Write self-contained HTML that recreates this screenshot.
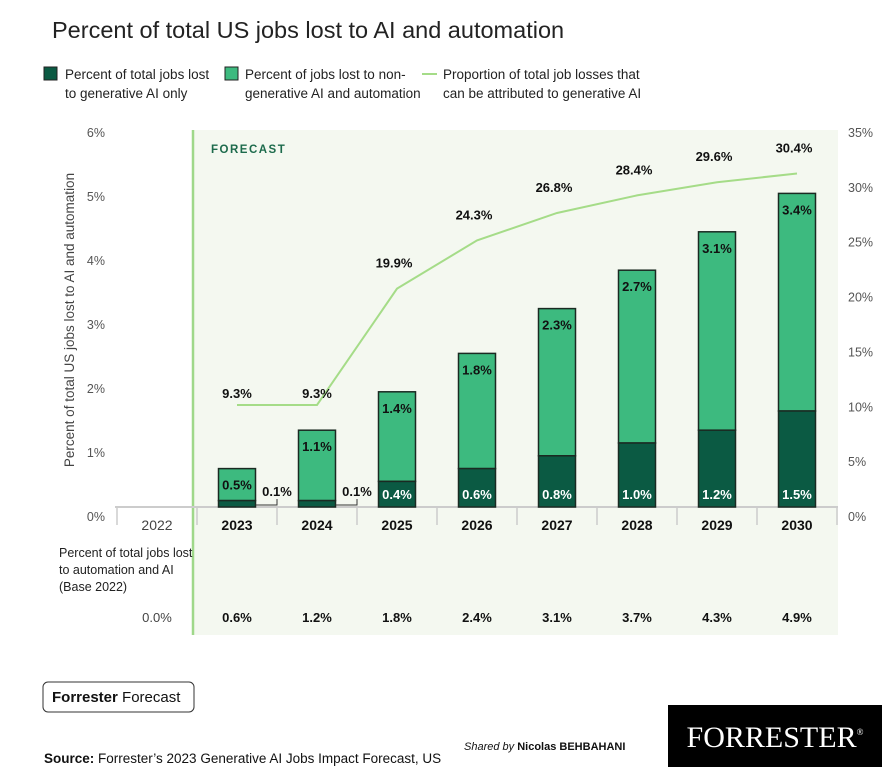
<!DOCTYPE html>
<html><head><meta charset="utf-8"><style>
body{margin:0;background:#fff;width:892px;height:772px;overflow:hidden;font-family:"Liberation Sans",sans-serif;}
svg text{font-family:"Liberation Sans",sans-serif;}
</style></head><body>
<svg width="892" height="772" viewBox="0 0 892 772">
<text x="52" y="38" font-size="23.5" fill="#222">Percent of total US jobs lost to AI and automation</text>
<g>
 <rect x="44" y="67" width="13" height="13" fill="#0b5a43" stroke="#222"/>
 <text x="65" y="79" font-size="13.5" fill="#222"><tspan x="65">Percent of total jobs lost</tspan><tspan x="65" dy="19">to generative AI only</tspan></text>
 <rect x="225" y="67" width="13" height="13" fill="#3dba7f" stroke="#222"/>
 <text x="245" y="79" font-size="13.5" fill="#222"><tspan x="245">Percent of jobs lost to non-</tspan><tspan x="245" dy="19">generative AI and automation</tspan></text>
 <line x1="422" y1="74" x2="437" y2="74" stroke="#a5dc88" stroke-width="2"/>
 <text x="443" y="79" font-size="13.5" fill="#222"><tspan x="443">Proportion of total job losses that</tspan><tspan x="443" dy="19">can be attributed to generative AI</tspan></text>
</g>
<rect x="193" y="130" width="645" height="505" fill="#f4f8f0"/>
<line x1="193" y1="130" x2="193" y2="635" stroke="#9fd88a" stroke-width="2.5"/>
<text x="211" y="153" font-size="11.5" font-weight="bold" letter-spacing="1.5" fill="#1d6b4c">FORECAST</text>
<text transform="translate(74,320) rotate(-90)" text-anchor="middle" font-size="13.5" fill="#444">Percent of total US jobs lost to AI and automation</text>
<g id="g"></g>
<text x="59" y="557" font-size="12.5" fill="#222"><tspan x="59">Percent of total jobs lost</tspan><tspan x="59" dy="17">to automation and AI</tspan><tspan x="59" dy="17">(Base 2022)</tspan></text>
<rect x="43" y="682" width="151" height="30" rx="5" fill="#fff" stroke="#333"/>
<text x="52" y="702" font-size="15" fill="#111"><tspan font-weight="bold">Forrester</tspan> Forecast</text>
<text x="44" y="763" font-size="13.5" fill="#111"><tspan font-weight="bold">Source:</tspan> Forrester’s 2023 Generative AI Jobs Impact Forecast, US</text>
<text x="464" y="750" font-size="11" fill="#111"><tspan font-style="italic">Shared by</tspan> <tspan font-weight="bold">Nicolas BEHBAHANI</tspan></text>
<rect x="668" y="705" width="214" height="62" fill="#000"/>
<text x="775" y="747" text-anchor="middle" font-family="Liberation Serif" font-size="30" fill="#fff" style="font-family:'Liberation Serif',serif">FORRESTER<tspan font-size="9" dy="-12">®</tspan></text>
</svg>
<script>
const years=["2022","2023","2024","2025","2026","2027","2028","2029","2030"];
const genAI=[0,0.1,0.1,0.4,0.6,0.8,1.0,1.2,1.5];
const nonGen=[0,0.5,1.1,1.4,1.8,2.3,2.7,3.1,3.4];
const proportion=[null,9.3,9.3,19.9,24.3,26.8,28.4,29.6,30.4];
const totals=["0.0%","0.6%","1.2%","1.8%","2.4%","3.1%","3.7%","4.3%","4.9%"];
const leftTicks=[0,1,2,3,4,5,6];
const rightTicks=[0,5,10,15,20,25,30,35];
const NS="http://www.w3.org/2000/svg",g=document.getElementById('g');
const y0=507,yL=v=>y0-v*64,yR=v=>y0-v*(384/35),xC=i=>157+i*80;
function el(t,a,txt){const e=document.createElementNS(NS,t);for(const k in a)e.setAttribute(k,a[k]);if(txt!=null)e.textContent=txt;g.appendChild(e);return e;}
leftTicks.forEach(v=>{const e=el('text',{x:105,y:yL(v)+14,'text-anchor':'end','font-size':12.5,fill:'#555'},v+'%');

});
rightTicks.forEach(v=>{const e=el('text',{x:848,y:yR(v)+14,'font-size':12.5,fill:'#555'},v+'%');

});
let a=el('line',{x1:115,y1:y0,x2:838,y2:y0,stroke:'#ccc','stroke-width':2});


for(let i=0;i<=years.length;i++){const t=el('line',{x1:117+i*80,y1:y0,x2:117+i*80,y2:y0+18,stroke:'#ccc','stroke-width':1.5});

}
const bw=37;
years.forEach((yr,i)=>{
 const x=xC(i);
 const lab=el('text',{x:x,y:530,'text-anchor':'middle','font-size':14,'font-weight':i?'bold':'normal',fill:i?'#111':'#444'},yr);
 
 
 const tl=el('text',{x:x,y:622,'text-anchor':'middle','font-size':13,'font-weight':i?'bold':'normal',fill:i?'#111':'#444'},totals[i]);
 
 
 if(!i)return;
 const gTop=yL(genAI[i]),nTop=yL(genAI[i]+nonGen[i]);
 const b2=el('rect',{x:x-bw/2,y:nTop,width:bw,height:gTop-nTop,fill:'#3dba7f',stroke:'#1a2a22','stroke-width':1.5});
 
 
 const b1=el('rect',{x:x-bw/2,y:gTop,width:bw,height:y0-gTop,fill:'#0b5a43',stroke:'#1a2a22','stroke-width':1.5});
 
 
 const t2=el('text',{x:x,y:nTop+21,'text-anchor':'middle','font-size':13,'font-weight':'bold',fill:'#111'},nonGen[i].toFixed(1)+'%');
 
 
 if(genAI[i]>=0.3){const t1=el('text',{x:x,y:y0-8,'text-anchor':'middle','font-size':13,'font-weight':'bold',fill:'#fff'},genAI[i].toFixed(1)+'%');
  
  }
 else{const br=el('polyline',{points:`${x+bw/2},${y0-2} ${x+40},${y0-2} ${x+40},${y0-8}`,fill:'none',stroke:'#333'});
  
  
  const t1=el('text',{x:x+40,y:y0-11,'text-anchor':'middle','font-size':13,'font-weight':'bold',fill:'#111'},genAI[i].toFixed(1)+'%');
  
  }
});
let pts=[];proportion.forEach((v,i)=>{if(v!=null)pts.push(xC(i)+','+yR(v));});
const ln=el('polyline',{points:pts.join(' '),fill:'none',stroke:'#a5dc88','stroke-width':2});


proportion.forEach((v,i)=>{if(v==null)return;const t=el('text',{x:xC(i)+(i>=3?-3:0),y:yR(v)-(i>=3?21:7),'text-anchor':'middle','font-size':13,'font-weight':'bold',fill:'#111'},v.toFixed(1)+'%');
 
 });
</script>
</body></html>
